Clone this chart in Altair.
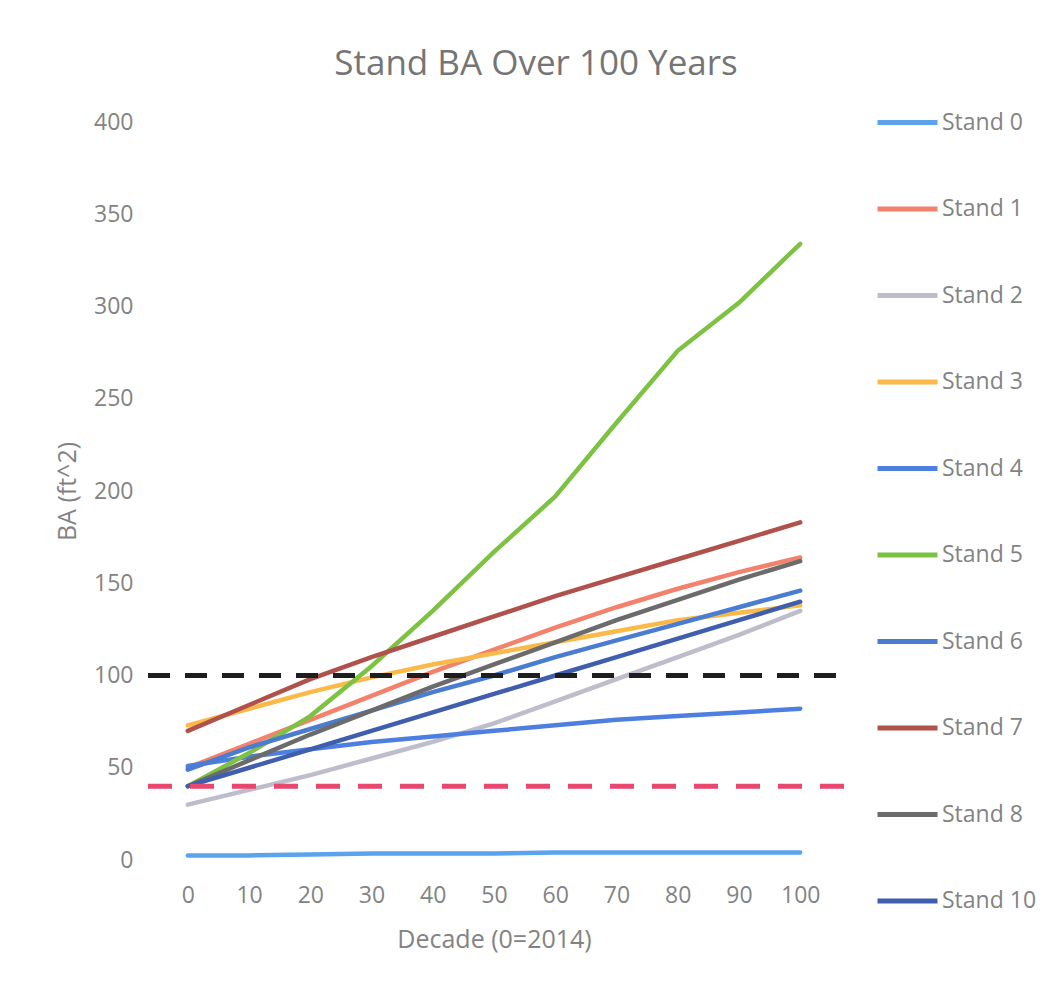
import altair as alt
import pandas as pd

decades = [0, 10, 20, 30, 40, 50, 60, 70, 80, 90, 100]
stand_names = ["Stand 0", "Stand 1", "Stand 2", "Stand 3", "Stand 4",
               "Stand 5", "Stand 6", "Stand 7", "Stand 8", "Stand 10"]
stand0 = [2.5, 2.5, 3, 3.5, 3.5, 3.5, 4, 4, 4, 4, 4]
stand1 = [50, 63, 76, 89, 102, 114, 126, 137, 147, 156, 164]
stand2 = [30, 38, 46, 55, 64, 74, 86, 98, 110, 122, 135]
stand3 = [73, 82, 91, 99, 106, 112, 118, 124, 130, 134, 138]
stand4 = [51, 56, 60, 64, 67, 70, 73, 76, 78, 80, 82]
stand5 = [40, 58, 78, 105, 135, 167, 197, 237, 276, 302, 334]
stand6 = [49, 61, 71, 81, 91, 100, 110, 119, 128, 137, 146]
stand7 = [70, 84, 98, 110, 121, 132, 143, 153, 163, 173, 183]
stand8 = [40, 54, 68, 81, 94, 106, 118, 130, 141, 152, 162]
stand10 = [40, 50, 60, 70, 80, 90, 100, 110, 120, 130, 140]
stand_colors = ["#5BA3EE", "#F2826C", "#BDBDCC", "#FBBA48", "#4D7FE0",
                "#7DC242", "#4A7CD2", "#B0514B", "#6B6B6B", "#3F5FAE"]

ref_levels = [100, 40]
ref_start = [-6.5, -6.5]
ref_end = [106.5, 107.5]
ref_colors = ["#1E1E1E", "#E8476E"]

series = [stand0, stand1, stand2, stand3, stand4, stand5, stand6, stand7, stand8, stand10]
rows = []
for name, vals in zip(stand_names, series):
    for d, v in zip(decades, vals):
        rows.append({"Decade": d, "BA": v, "Stand": name})
df = pd.DataFrame(rows)

ref_black = pd.DataFrame({"x": [ref_start[0]], "x2": [ref_end[0]], "y": [ref_levels[0]]})
ref_red = pd.DataFrame({"x": [ref_start[1]], "x2": [ref_end[1]], "y": [ref_levels[1]]})

FONT = "Open Sans"
GREY = "#838383"

xscale = alt.Scale(domain=[-6.5, 106.5], nice=False, zero=False)
yscale = alt.Scale(domain=[0, 400], nice=False)

lines = alt.Chart(df).mark_line(strokeWidth=4.5, strokeCap="round").encode(
    x=alt.X("Decade:Q", scale=xscale,
            axis=alt.Axis(values=decades, title="Decade (0=2014)", grid=False,
                          domain=False, ticks=False, labelPadding=24,
                          labelFontSize=23, labelColor=GREY, labelFont=FONT,
                          titleFontSize=25, titleColor=GREY, titleFont=FONT,
                          titleFontWeight="normal", titlePadding=20)),
    y=alt.Y("BA:Q", scale=yscale,
            axis=alt.Axis(values=[0, 50, 100, 150, 200, 250, 300, 350, 400],
                          title="BA (ft^2)", grid=False, domain=False, ticks=False,
                          labelPadding=15, labelFontSize=23, labelColor=GREY,
                          labelFont=FONT, titleFontSize=25, titleColor=GREY,
                          titleFont=FONT, titleFontWeight="normal",
                          titleX=-81, titleY=369, titleAlign="center",
                          titleBaseline="middle", titleAngle=-90)),
    color=alt.Color("Stand:N",
                    scale=alt.Scale(domain=stand_names, range=stand_colors),
                    sort=stand_names,
                    legend=alt.Legend(title=None, orient="none", legendX=727, legendY=-32,
                                      symbolType="stroke", symbolSize=3600,
                                      symbolStrokeWidth=5, labelFontSize=23,
                                      labelFont=FONT, labelColor=GREY,
                                      labelOffset=2, rowPadding=41.5, padding=0,
                                      columns=1)),
    order=alt.Order("Decade:Q"),
)

black = alt.Chart(ref_black).mark_rule(color=ref_colors[0], strokeWidth=5,
                                        strokeDash=[22, 15]).encode(
    x=alt.X("x:Q", scale=xscale), x2="x2:Q", y=alt.Y("y:Q", scale=yscale))
red = alt.Chart(ref_red).mark_rule(color=ref_colors[1], strokeWidth=5,
                                    strokeDash=[24, 18]).encode(
    x=alt.X("x:Q", scale=xscale), x2="x2:Q", y=alt.Y("y:Q", scale=yscale))

chart = alt.layer(lines, black, red).properties(
    width=692, height=738,
    background="white",
    title=alt.TitleParams("Stand BA Over 100 Years", fontSize=35, color="#757575",
                          font=FONT, fontWeight="normal", anchor="middle",
                          frame="group", baseline="alphabetic", offset=47, dx=42, dy=67),
    autosize=alt.AutoSizeParams(type="none"),
    padding={"left": 140, "top": 114, "right": 200, "bottom": 110},
).configure_view(stroke=None)

chart.save("out.html", embed_options={"renderer": "svg", "actions": False})
